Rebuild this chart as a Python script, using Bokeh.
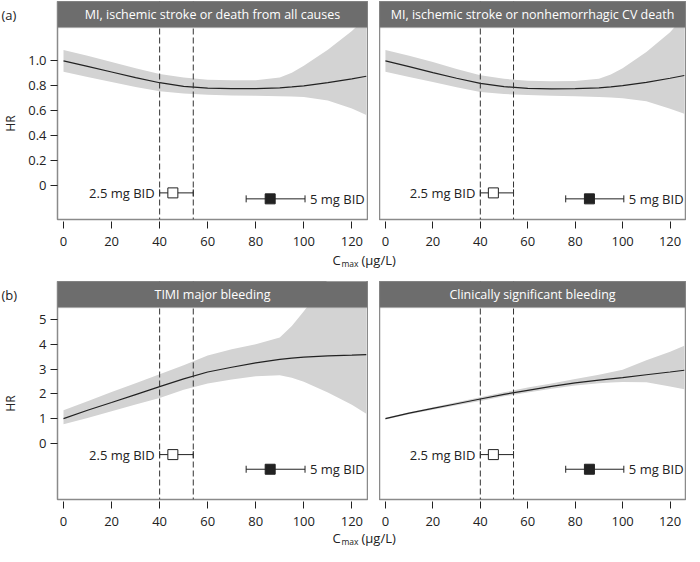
from bokeh.plotting import figure
from bokeh.models import (Range1d, FixedTicker, BoxAnnotation, Label, Span, Whisker,
                          ColumnDataSource, TeeHead, CustomJSTickFormatter, Spacer)
from bokeh.layouts import column, row
from bokeh.embed import file_html
from bokeh.resources import INLINE
from bokeh.core.properties import value

FONT = "Open Sans"

# ---------------- data ----------------
cmax = [0, 10, 20, 30, 40, 50, 60, 70, 80, 90, 95, 100, 110, 120, 126]

titles = ["MI, ischemic stroke or death from all causes",
          "MI, ischemic stroke or nonhemorrhagic CV death",
          "TIMI major bleeding",
          "Clinically significant bleeding"]
panel_tags = ["(a)", "(b)"]

A_hr = [1.00, 0.955, 0.91, 0.865, 0.824, 0.795, 0.781, 0.777, 0.777, 0.783, 0.79, 0.798, 0.825, 0.855, 0.876]
A_hi = [1.087, 1.04, 0.99, 0.94, 0.895, 0.865, 0.848, 0.843, 0.843, 0.865, 0.905, 0.96, 1.09, 1.24, 1.35]
A_lo = [0.913, 0.87, 0.83, 0.79, 0.756, 0.738, 0.728, 0.722, 0.719, 0.716, 0.714, 0.71, 0.68, 0.617, 0.565]

B_hr = [1.0, 0.953, 0.905, 0.86, 0.818, 0.792, 0.779, 0.775, 0.776, 0.783, 0.79, 0.8, 0.826, 0.86, 0.882]
B_hi = [1.087, 1.04, 0.99, 0.935, 0.885, 0.855, 0.84, 0.835, 0.837, 0.856, 0.89, 0.94, 1.07, 1.23, 1.36]
B_lo = [0.913, 0.87, 0.83, 0.788, 0.75, 0.733, 0.725, 0.72, 0.715, 0.71, 0.706, 0.7, 0.675, 0.615, 0.575]

C_hr = [1.0, 1.34, 1.65, 1.97, 2.29, 2.6, 2.88, 3.07, 3.25, 3.39, 3.44, 3.48, 3.53, 3.56, 3.58]
C_hi = [1.34, 1.7, 2.07, 2.43, 2.79, 3.15, 3.55, 3.8, 4.0, 4.27, 4.73, 5.33, 6.6, 7.8, 8.5]
C_lo = [0.77, 1.03, 1.3, 1.57, 1.83, 2.16, 2.42, 2.58, 2.71, 2.75, 2.65, 2.49, 2.05, 1.56, 1.2]

D_hr = [1.0, 1.22, 1.41, 1.6, 1.79, 1.98, 2.14, 2.3, 2.44, 2.55, 2.6, 2.65, 2.77, 2.88, 2.95]
D_hi = [1.04, 1.26, 1.46, 1.66, 1.86, 2.06, 2.25, 2.42, 2.6, 2.77, 2.87, 2.97, 3.35, 3.7, 3.94]
D_lo = [0.97, 1.18, 1.36, 1.54, 1.71, 1.9, 2.05, 2.2, 2.34, 2.43, 2.46, 2.48, 2.47, 2.3, 2.18]

dose_labels = ["2.5 mg BID", "5 mg BID"]
dose_median = [45.5, 86.0]
dose_low = [40.0, 76.0]
dose_high = [54.0, 100.5]
dose_y_top = [-0.062, -0.11]
dose_y_bottom = [-0.45, -1.04]

x_ticks = [0, 20, 40, 60, 80, 100, 120]
y_ticks_top = [0, 0.2, 0.4, 0.6, 0.8, 1.0]
y_ticks_bottom = [0, 1, 2, 3, 4, 5]
x_lim = (-2.5, 126.5)
y_lim_top = (-0.276, 1.268)
y_lim_bottom = (-2.26, 5.48)

# ---------------- style / layout ----------------
HEAD_H = 26
PLOT_H = 192
FRAME_H = HEAD_H + PLOT_H
LEFT_FW = 310
RIGHT_FW = 306
GAP = 11
SIDE_TOP_W = 25
SIDE_BOTTOM_W = 36
BAND = "#d3d3d3"
INK = "#222222"
FRAME = "#8a8a8a"
HEAD = "#6d6d6d"


def make_panel(title, hr, lo, hi, ylim, yticks, dose_y, left, decimals):
    ylo, yhi = ylim
    head_data = (yhi - ylo) * HEAD_H / PLOT_H
    p = figure(frame_width=LEFT_FW if left else RIGHT_FW, frame_height=FRAME_H,
               output_backend="svg", toolbar_location=None, title=None,
               x_range=Range1d(*x_lim), y_range=Range1d(ylo, yhi + head_data),
               min_border=0, min_border_right=1,
               y_axis_location="left" if left else None)
    p.grid.visible = False
    p.outline_line_color = FRAME
    p.outline_line_width = 1.5
    p.background_fill_color = "white"
    p.border_fill_color = "white"

    xa = p.xaxis[0]
    xa.ticker = FixedTicker(ticks=x_ticks)
    xa.axis_line_color = None
    xa.major_tick_in = -2
    xa.major_tick_out = 9
    xa.major_tick_line_color = INK
    xa.minor_tick_line_color = None
    xa.major_label_text_font = FONT
    xa.major_label_text_font_size = "13px"
    xa.major_label_text_color = INK
    xa.major_label_standoff = 8

    if left:
        ya = p.yaxis[0]
        ya.ticker = FixedTicker(ticks=yticks)
        ya.axis_line_color = None
        ya.major_tick_in = 0
        ya.major_tick_out = 7
        ya.major_tick_line_color = INK
        ya.minor_tick_line_color = None
        ya.major_label_text_font = FONT
        ya.major_label_text_font_size = "13px"
        ya.major_label_text_color = INK
        ya.major_label_standoff = 4
        ya.formatter = CustomJSTickFormatter(
            args=dict(dec=decimals),
            code="return (tick === 0) ? '0' : tick.toFixed(dec);")

    p.varea(x=cmax, y1=lo, y2=hi, fill_color=BAND, fill_alpha=1.0)
    p.line(x=cmax, y=hr, line_color=INK, line_width=1.2)

    for xv in (dose_low[0], dose_high[0]):
        p.add_layout(Span(location=xv, dimension="height", line_color="#333333",
                          line_width=1, line_dash="6 3"))

    src = ColumnDataSource(dict(y=dose_y, lo=dose_low, hi=dose_high, x=dose_median,
                                fill=["white", INK]))
    p.add_layout(Whisker(source=src, base="y", lower="lo", upper="hi", dimension="width",
                         line_color=INK, line_width=1,
                         lower_head=TeeHead(size=7, line_color=INK, line_width=1),
                         upper_head=TeeHead(size=7, line_color=INK, line_width=1)))
    p.scatter(x="x", y="y", source=src, marker="square", size=10, fill_color="fill",
              line_color=INK, line_width=1)

    p.text(x=[dose_low[0]], y=[dose_y[0]], text=[dose_labels[0]], x_offset=-5,
           text_align="right", text_baseline="middle", text_font=value(FONT),
           text_font_size="13px", text_color=INK)
    p.text(x=[dose_high[1]], y=[dose_y[1]], text=[dose_labels[1]], x_offset=5,
           text_align="left", text_baseline="middle", text_font=value(FONT),
           text_font_size="13px", text_color=INK)

    p.add_layout(BoxAnnotation(bottom=yhi, fill_color=HEAD, fill_alpha=1.0,
                               line_color=FRAME, line_width=1.3))
    p.add_layout(Label(x=(x_lim[0] + x_lim[1]) / 2, y=yhi + head_data / 2, text=title,
                       text_align="center", text_baseline="middle", text_color="white",
                       text_font=FONT, text_font_size="12.5px"))
    return p


def make_side(width, tag):
    s = figure(frame_width=width, frame_height=FRAME_H, output_backend="svg",
               toolbar_location=None, title=None, min_border=0,
               x_range=Range1d(0, width), y_range=Range1d(0, FRAME_H),
               x_axis_location=None, y_axis_location=None)
    s.grid.visible = False
    s.outline_line_color = None
    s.add_layout(Label(x=1, y=PLOT_H + HEAD_H / 2, text=tag, text_align="left",
                       text_baseline="middle", text_color=INK, text_font=FONT,
                       text_font_size="13px"))
    s.add_layout(Label(x=10, y=PLOT_H / 2, text="HR", angle=90, angle_units="deg",
                       text_align="center", text_baseline="middle", text_color=INK,
                       text_font=FONT, text_font_size="12px"))
    return s


def make_xlabel_strip(h, yc):
    s = figure(frame_width=684, frame_height=h, output_backend="svg", toolbar_location=None,
               title=None, x_range=Range1d(0, 684), y_range=Range1d(0, h),
               min_border=0, x_axis_location=None, y_axis_location=None)
    s.grid.visible = False
    s.outline_line_color = None
    s.add_layout(Label(x=332, y=yc, text="C", text_font=FONT, text_font_size="13px",
                       text_color=INK, text_baseline="middle"))
    s.add_layout(Label(x=341, y=yc - 4, text="max", text_font=FONT, text_font_size="8.5px",
                       text_color=INK, text_baseline="middle"))
    s.add_layout(Label(x=361, y=yc, text="(µg/L)", text_font=FONT, text_font_size="13px",
                       text_color=INK, text_baseline="middle"))
    return s


pA = make_panel(titles[0], A_hr, A_lo, A_hi, y_lim_top, y_ticks_top, dose_y_top, True, 1)
pB = make_panel(titles[1], B_hr, B_lo, B_hi, y_lim_top, y_ticks_top, dose_y_top, False, 1)
pC = make_panel(titles[2], C_hr, C_lo, C_hi, y_lim_bottom, y_ticks_bottom, dose_y_bottom, True, 0)
pD = make_panel(titles[3], D_hr, D_lo, D_hi, y_lim_bottom, y_ticks_bottom, dose_y_bottom, False, 0)

sideA = make_side(SIDE_TOP_W, panel_tags[0])
sideC = make_side(SIDE_BOTTOM_W, panel_tags[1])

s1 = make_xlabel_strip(33, 22)
s2 = make_xlabel_strip(18, 9)

layout = column(Spacer(height=1),
                row(sideA, pA, Spacer(width=GAP), pB),
                s1,
                row(sideC, pC, Spacer(width=GAP), pD),
                s2)

open("out.html", "w").write(file_html(layout, INLINE))
